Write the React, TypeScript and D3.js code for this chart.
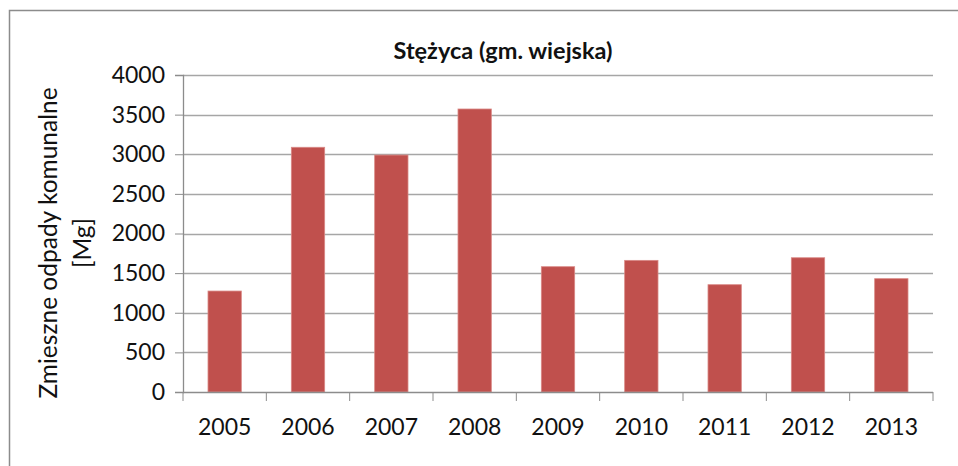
import React, { useEffect, useRef } from 'react'
import * as d3 from 'd3'

const years = ['2005', '2006', '2007', '2008', '2009', '2010', '2011', '2012', '2013']
const waste = [1274, 3088, 2990, 3571, 1581, 1661, 1354, 1694, 1430]
const yTicks = [0, 500, 1000, 1500, 2000, 2500, 3000, 3500, 4000]

const App = () => {
  const svgRef = useRef<SVGSVGElement>(null)

  useEffect(() => {
    const W = 958
    const H = 466
    const margin = { top: 75, right: 25, bottom: 74, left: 183 }
    const width = W - margin.left - margin.right
    const height = H - margin.top - margin.bottom
    const font = 'Lato, "Open Sans", sans-serif'

    const root = d3.select(svgRef.current)
    root.selectAll('*').remove()
    root.attr('width', W).attr('height', H)

    // outer chart frame
    root
      .append('rect')
      .attr('x', 9.5)
      .attr('y', 10.5)
      .attr('width', 980)
      .attr('height', 480)
      .attr('fill', 'white')
      .attr('stroke', '#8c8c8c')
      .attr('stroke-width', 1.5)

    const svg = root.append('g').attr('transform', `translate(${margin.left}, ${margin.top})`)

    const xScale = d3.scaleBand().domain(years).range([0, width]).paddingInner(0.6).paddingOuter(0.3)
    const yScale = d3.scaleLinear().domain([0, 4000]).range([height, 0])

    // gridlines
    svg
      .append('g')
      .selectAll('line')
      .data(yTicks.filter((d) => d > 0))
      .enter()
      .append('line')
      .attr('x1', 0)
      .attr('x2', width)
      .attr('y1', (d) => Math.round(yScale(d)) + 0.5)
      .attr('y2', (d) => Math.round(yScale(d)) + 0.5)
      .attr('stroke', '#a6a6a6')
      .attr('stroke-width', 1.3)

    // bars
    svg
      .selectAll('.bar')
      .data(years)
      .enter()
      .append('rect')
      .attr('class', 'bar')
      .attr('x', (d) => xScale(d)!)
      .attr('y', (d, i) => yScale(waste[i]))
      .attr('width', xScale.bandwidth())
      .attr('height', (d, i) => height - yScale(waste[i]))
      .attr('fill', '#c0504d')
      .attr('stroke', '#d98986')
      .attr('stroke-width', 0.8)

    // y axis
    const yAxis = svg
      .append('g')
      .call(d3.axisLeft(yScale).tickValues(yTicks).tickSize(8).tickPadding(10).tickFormat(d3.format('d')))
    yAxis.selectAll('line').attr('stroke', '#8c8c8c')
    yAxis.select('.domain').attr('stroke', '#8c8c8c').attr('stroke-width', 1.3)
    yAxis.selectAll('text').style('font-family', font).style('font-size', '23px').attr('fill', '#111')

    // x axis, ticks at category boundaries
    const xg = svg.append('g').attr('transform', `translate(0, ${height})`)
    xg.append('line').attr('x1', 0).attr('x2', width).attr('y1', 0.5).attr('y2', 0.5).attr('stroke', '#8c8c8c').attr('stroke-width', 1.3)
    const step = xScale.step()
    const bounds = d3.range(years.length + 1).map((i) => xScale(years[0])! - xScale.paddingOuter() * step + i * step)
    xg.selectAll('.xtick')
      .data(bounds)
      .enter()
      .append('line')
      .attr('x1', (d) => d)
      .attr('x2', (d) => d)
      .attr('y1', 0)
      .attr('y2', 9)
      .attr('stroke', '#8c8c8c')
    xg.selectAll('.xlabel')
      .data(years)
      .enter()
      .append('text')
      .text((d) => d)
      .attr('x', (d) => xScale(d)! + xScale.bandwidth() / 2)
      .attr('y', 43)
      .attr('text-anchor', 'middle')
      .style('font-family', font)
      .style('font-size', '23px')
      .attr('fill', '#111')

    // title
    root
      .append('text')
      .text('Stężyca (gm. wiejska)')
      .attr('x', 503)
      .attr('y', 59)
      .attr('text-anchor', 'middle')
      .style('font-family', font)
      .style('font-size', '23.5px')
      .style('font-weight', 'bold')
      .attr('fill', '#111')

    // y axis label
    const yl = root
      .append('text')
      .attr('transform', 'rotate(-90)')
      .attr('text-anchor', 'middle')
      .style('font-family', font)
      .style('font-size', '24.5px')
      .attr('fill', '#111')
    yl.append('tspan').text('Zmieszne odpady komunalne').attr('x', -243).attr('y', 57)
    yl.append('tspan').text('[Mg]').attr('x', -243).attr('y', 91)
  }, [])

  return <svg ref={svgRef} style={{ position: 'absolute', left: 0, top: 0 }}></svg>
}

export default App
